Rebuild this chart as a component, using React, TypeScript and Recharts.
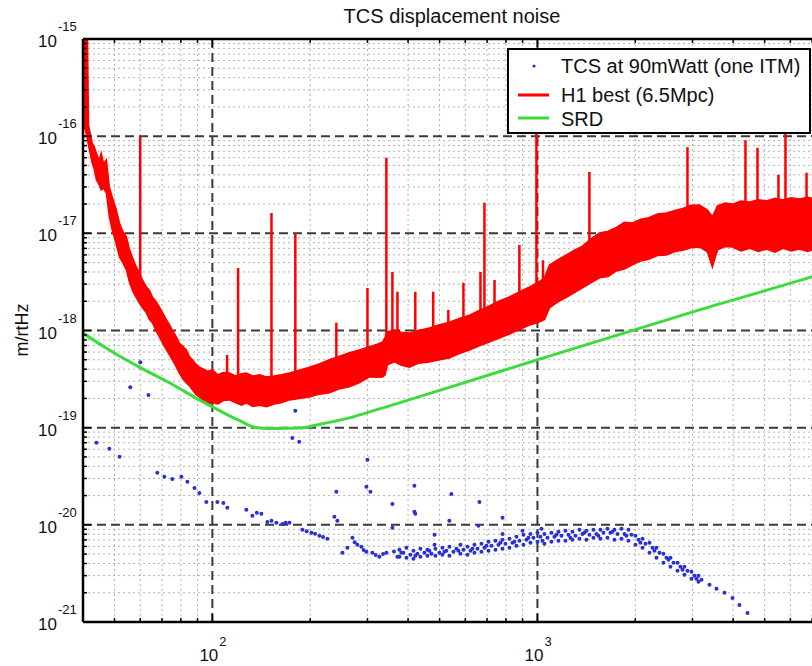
import React from 'react';
import { ComposedChart, Area, Line, Scatter, XAxis, YAxis, CartesianGrid, Legend } from 'recharts';

// ---------- H1 best (6.5Mpc): noise band envelope ----------
const bandFreq = [40, 40.8, 41.3, 41.6, 42.7, 43.3, 44.0, 44.8, 45.5, 46.3, 47.2, 48.2, 49.2, 50.5, 51.8, 53.0, 54.4, 55.5, 56.7, 58.2, 59.6, 61.0, 62.7, 64.0, 65.4, 67.0, 68.7, 70.5, 72.2, 73.8, 75.3, 77.2, 79.1, 81.0, 83.2, 85.0, 86.8, 89.0, 91.2, 94, 97, 100, 104, 108, 112.8, 118, 123, 127.2, 133, 140, 146.6, 155, 163, 172.6, 185, 198.9, 212, 229, 245, 264, 283, 304, 320, 333.6, 340, 345.6, 363, 380, 403.6, 430, 465, 500, 536, 575, 618, 660, 711, 760, 820, 880, 945, 1000, 1051, 1089, 1150, 1228, 1300, 1376, 1460, 1552, 1650, 1750, 1850, 1960, 2080, 2200, 2340, 2494, 2650, 2800, 2970, 3151, 3334, 3453, 3580, 3780, 3981, 4230, 4500, 4780, 5066, 5380, 5700, 6030, 6397, 6780, 7200, 7600, 8000];
const bandLow = [1.4e-16, 1.1e-16, 9.1e-17, 8.0e-17, 5.3e-17, 4.6e-17, 3.55e-17, 3.2e-17, 2.8e-17, 2.9e-17, 2.6e-17, 1.48e-17, 1.08e-17, 8.0e-18, 5.7e-18, 5.0e-18, 4.2e-18, 3.2e-18, 2.62e-18, 2.2e-18, 1.92e-18, 1.7e-18, 1.52e-18, 1.3e-18, 1.2e-18, 1.0e-18, 8.6e-19, 7.3e-19, 6.3e-19, 5.6e-19, 5.0e-19, 4.3e-19, 3.66e-19, 3.2e-19, 2.89e-19, 2.7e-19, 2.45e-19, 2.2e-19, 2.07e-19, 1.9e-19, 1.75e-19, 1.8e-19, 1.75e-19, 1.9e-19, 1.93e-19, 1.8e-19, 1.7e-19, 1.8e-19, 1.65e-19, 1.7e-19, 1.64e-19, 1.75e-19, 1.8e-19, 1.93e-19, 2.0e-19, 2.07e-19, 2.2e-19, 2.28e-19, 2.5e-19, 2.63e-19, 2.9e-19, 3.33e-19, 3.3e-19, 3.33e-19, 3.5e-19, 4.43e-19, 4.75e-19, 4.4e-19, 4.2e-19, 4.6e-19, 4.75e-19, 5.0e-19, 5.2e-19, 5.8e-19, 6.3e-19, 6.9e-19, 7.6e-19, 8.3e-19, 9.2e-19, 1.02e-18, 1.14e-18, 1.2e-18, 1.29e-18, 1.71e-18, 1.95e-18, 2.2e-18, 2.45e-18, 2.74e-18, 3.1e-18, 3.48e-18, 3.6e-18, 4.1e-18, 4.3e-18, 4.73e-18, 5.2e-18, 5.4e-18, 5.9e-18, 6.0e-18, 6.5e-18, 6.7e-18, 7.1e-18, 7.24e-18, 6.44e-18, 4.5e-18, 6.75e-18, 7.3e-18, 7.24e-18, 6.6e-18, 7.0e-18, 6.5e-18, 6.9e-18, 6.4e-18, 7.0e-18, 6.6e-18, 6.9e-18, 6.5e-18, 7.0e-18, 6.7e-18, 7.1e-18];
const bandHigh = [1.0e-15, 1.0e-15, 1.0e-15, 1.3e-16, 8.5e-17, 7.8e-17, 6.7e-17, 5.6e-17, 6.7e-17, 5.2e-17, 5.7e-17, 3.0e-17, 2.37e-17, 1.8e-17, 1.28e-17, 1.05e-17, 9.2e-18, 7.0e-18, 5.7e-18, 4.6e-18, 3.92e-18, 3.3e-18, 2.81e-18, 2.6e-18, 2.22e-18, 2.0e-18, 1.75e-18, 1.5e-18, 1.29e-18, 1.15e-18, 1.01e-18, 8.8e-19, 7.45e-19, 6.9e-19, 6.3e-19, 5.4e-19, 5.0e-19, 4.5e-19, 4.2e-19, 4.0e-19, 3.8e-19, 3.94e-19, 3.5e-19, 3.7e-19, 3.66e-19, 3.4e-19, 3.6e-19, 3.66e-19, 3.4e-19, 3.5e-19, 3.33e-19, 3.4e-19, 3.5e-19, 3.66e-19, 3.9e-19, 4.2e-19, 4.5e-19, 5.0e-19, 5.4e-19, 5.9e-19, 6.3e-19, 6.8e-19, 7.2e-19, 7.6e-19, 8.5e-19, 9.7e-19, 1.01e-18, 9.6e-19, 9.4e-19, 1.0e-18, 1.06e-18, 1.15e-18, 1.22e-18, 1.33e-18, 1.44e-18, 1.6e-18, 1.79e-18, 2.0e-18, 2.22e-18, 2.5e-18, 2.81e-18, 3.1e-18, 3.48e-18, 4.73e-18, 5.3e-18, 6.0e-18, 6.7e-18, 7.4e-18, 8.8e-18, 1.01e-17, 1.05e-17, 1.15e-17, 1.3e-17, 1.28e-17, 1.4e-17, 1.45e-17, 1.58e-17, 1.62e-17, 1.72e-17, 1.8e-17, 1.95e-17, 1.96e-17, 1.74e-17, 1.48e-17, 1.92e-17, 2.05e-17, 2.0e-17, 2.15e-17, 2.1e-17, 2.22e-17, 2.15e-17, 2.3e-17, 2.2e-17, 2.32e-17, 2.26e-17, 2.35e-17, 2.25e-17, 2.33e-17, 2.26e-17];

// ---------- H1 best: spectral lines ----------
const spikeFreq = [60, 111, 120, 152, 180, 240.7, 300, 343, 358, 371, 421, 478, 532, 592, 668, 687, 738, 880, 993, 1040, 1186, 1272, 1445, 2894, 4365, 4753, 5514, 5795, 6727];
const spikePeak = [1.0e-16, 5.6e-19, 4.4e-18, 1.62e-17, 1.0e-17, 1.2e-18, 2.74e-18, 6.0e-17, 4.0e-18, 2.5e-18, 2.5e-18, 2.5e-18, 1.63e-18, 3.1e-18, 4.0e-18, 2.06e-17, 3.3e-18, 7.6e-18, 1.5e-16, 5.3e-18, 5.6e-18, 6.0e-18, 4.28e-17, 7.7e-17, 9.1e-17, 7.6e-17, 4.0e-17, 1.5e-16, 4.2e-17];
const spikeBase = [2.7e-18, 2.6e-19, 2.5e-19, 2.3e-19, 2.6e-19, 3.3e-19, 4.7e-19, 6.0e-19, 6.5e-19, 6.5e-19, 6.3e-19, 7.0e-19, 7.8e-19, 9.0e-19, 1.05e-18, 1.1e-18, 1.25e-18, 1.6e-18, 2.0e-18, 2.2e-18, 3.5e-18, 4.0e-18, 5.5e-18, 1.1e-17, 1.2e-17, 1.2e-17, 1.2e-17, 1.2e-17, 1.25e-17];

// ---------- SRD ----------
const srdFreq = [40, 48.2, 59.6, 73.8, 91.2, 100, 120, 137, 158, 185, 213.4, 264, 326.4, 376, 536, 1000, 3150, 6970, 8000];
const srdVal = [9.4e-19, 6.3e-19, 4.2e-19, 2.9e-19, 1.93e-19, 1.64e-19, 1.2e-19, 1.0e-19, 9.8e-20, 9.9e-20, 1.08e-19, 1.26e-19, 1.56e-19, 1.8e-19, 2.6e-19, 5.0e-19, 1.63e-18, 3.56e-18, 4.1e-18];

// ---------- TCS at 90mWatt (one ITM) ----------
const tcsFreq = [
  44.0, 48.2, 51.8, 55.9, 60.0, 63.6, 67.7, 71.2, 75.3, 80.3, 83.8, 88.1, 91.2, 95.8, 103.6, 108.1, 111.2, 127.2, 132.8, 137, 141.5, 147.6, 152, 157.4, 164.2, 168, 172.6, 176.2, 180, 185, 189.2, 195, 201.7, 207, 213.4, 219, 225.9, 237.3, 240.7, 242.4, 251.2, 260.3, 269.7, 274, 279.3, 287.4, 292, 297.8, 297.8, 300, 306.4, 310.6, 318, 326.4, 335, 343.1, 358, 358, 362, 370.9,
  418.3, 418.3, 421, 543.5, 535.8, 663, 658.4, 781, 781, 482.5, 482.5, 899.5, 1029,
  376.2, 376.2, 387.0, 395.4, 395.4, 406.8, 415.5, 415.5, 427.4, 436.5, 436.5, 449.1, 458.7, 458.7, 471.9, 485.6, 485.6, 499.3, 510.1, 510.1, 524.8, 536.1, 536.1, 551.5, 563.4, 579.6, 579.6, 592.0, 609.1, 609.1, 622.2, 640.2, 640.2, 654.0, 672.7, 672.7, 687.1, 706.9, 706.9, 722.2, 742.9, 742.9, 758.6, 780.5, 780.5, 797.3, 820.2, 820.2, 837.9, 862.0, 862.0, 880.5, 905.8, 905.8, 925.3, 951.8, 951.8, 972.0, 1000, 1000, 1021.4, 1050.8, 1050.8, 1073.5, 1104.3, 1104.3, 1128.0, 1160.4, 1160.4, 1185.3, 1219.5, 1219.5, 1245.6, 1281.4, 1281.4, 1308.9, 1346.5, 1346.5, 1375.6, 1415.1, 1415.1, 1445.4, 1487.0, 1487.0, 1518.9, 1562.6, 1562.6, 1596.4, 1642.3, 1642.3, 1677.5, 1725.7, 1725.7, 1763.0, 1813.6, 1813.6, 1852.5, 1905.5, 1905.5, 1946.4, 2002.4, 2002.4, 2045.7, 2104.5, 2104.5, 2149.6, 2211.4, 2211.4, 2258.8, 2323.9, 2323.9, 2373.6, 2441.8, 2441.8, 2494.1, 2565.7, 2565.7, 2621.2, 2696.5, 2696.5, 2754.2, 2833.4, 2833.4, 2894.3, 2977.5, 2977.5, 3041.6, 3129.0, 3129.0, 3196.4,
  381.5, 421.4, 465.2, 517.3, 571.3, 631, 697, 769.5, 849.6, 938.3, 1036, 1144, 1263, 1395, 1540, 1701, 1878, 2074, 2291, 2530, 2794, 3085,
  3382.6, 3554.8, 3762, 3981, 4183, 4429
];
const tcsVal = [
  6.98e-20, 6.05e-20, 5.01e-20, 2.6e-19, 4.7e-19, 2.17e-19, 3.43e-20, 3.12e-20, 2.97e-20, 3.12e-20, 2.77e-20, 2.40e-20, 2.13e-20, 1.72e-20, 1.72e-20, 1.68e-20, 1.50e-20, 1.43e-20, 1.24e-20, 1.33e-20, 1.30e-20, 1.07e-20, 1.1e-20, 1.05e-20, 1.02e-20, 1.05e-20, 1.05e-20, 7.85e-20, 1.49e-19, 7.15e-20, 8.89e-21, 8.6e-21, 8.28e-21, 8.1e-21, 7.71e-21, 7.5e-21, 7.18e-21, 1.21e-20, 2.19e-20, 1.10e-20, 5.15e-21, 5.80e-21, 7.35e-21, 6.6e-21, 6.23e-21, 5.94e-21, 5.5e-21, 5.28e-21, 2.46e-20, 4.67e-20, 2.19e-20, 5.15e-21, 4.9e-21, 4.69e-21, 5.0e-21, 5.15e-21, 9.31e-21, 1.64e-20, 5.3e-21, 4.69e-21,
  2.52e-20, 1.36e-20, 1.30e-20, 2.08e-20, 1.10e-20, 1.72e-20, 9.77e-21, 1.18e-20, 8.07e-21, 7.89e-21, 6.23e-21, 8.67e-21, 9.09e-21,
  5.53e-21, 4.69e-21, 5.15e-21, 5.80e-21, 4.58e-21, 4.91e-21, 5.40e-21, 4.47e-21, 5.03e-21, 5.66e-21, 4.69e-21, 5.15e-21, 4.80e-21, 5.53e-21, 5.03e-21, 5.66e-21, 4.80e-21, 5.15e-21, 5.80e-21, 4.91e-21, 5.40e-21, 5.94e-21, 4.80e-21, 5.28e-21, 5.66e-21, 6.23e-21, 5.03e-21, 5.53e-21, 5.94e-21, 4.91e-21, 5.40e-21, 6.23e-21, 5.15e-21, 5.66e-21, 6.37e-21, 5.28e-21, 5.80e-21, 6.69e-21, 5.40e-21, 6.08e-21, 6.85e-21, 5.53e-21, 6.23e-21, 7.01e-21, 5.66e-21, 6.37e-21, 7.18e-21, 5.80e-21, 6.53e-21, 7.53e-21, 6.08e-21, 6.85e-21, 7.89e-21, 6.23e-21, 7.01e-21, 8.07e-21, 6.53e-21, 7.35e-21, 8.28e-21, 6.69e-21, 7.53e-21, 8.07e-21, 6.37e-21, 7.35e-21, 8.28e-21, 6.69e-21, 7.53e-21, 8.47e-21, 6.85e-21, 7.71e-21, 8.67e-21, 6.85e-21, 7.89e-21, 8.47e-21, 7.01e-21, 7.71e-21, 8.89e-21, 7.18e-21, 8.07e-21, 8.67e-21, 7.01e-21, 7.89e-21, 8.89e-21, 7.35e-21, 8.07e-21, 8.89e-21, 7.18e-21, 8.28e-21, 9.09e-21, 7.35e-21, 8.28e-21, 8.89e-21, 7.01e-21, 8.07e-21, 9.09e-21, 7.18e-21, 8.07e-21, 8.89e-21, 6.85e-21, 7.89e-21, 7.71e-21, 6.23e-21, 7.01e-21, 7.18e-21, 5.80e-21, 6.37e-21, 6.53e-21, 5.15e-21, 5.80e-21, 5.80e-21, 4.58e-21, 5.15e-21, 5.03e-21, 4.07e-21, 4.58e-21, 4.58e-21, 3.70e-21, 4.07e-21, 4.07e-21, 3.36e-21, 3.70e-21, 3.70e-21, 3.06e-21, 3.36e-21, 3.28e-21, 2.78e-21, 2.99e-21, 2.99e-21, 2.59e-21, 2.72e-21,
  5.15e-21, 4.80e-21, 5.40e-21, 5.28e-21, 5.40e-21, 5.66e-21, 6.08e-21, 6.53e-21, 6.69e-21, 7.35e-21, 6.85e-21, 7.89e-21, 7.35e-21, 8.28e-21, 7.71e-21, 8.47e-21, 7.71e-21, 6.53e-21, 5.40e-21, 4.37e-21, 3.44e-21, 2.78e-21,
  2.42e-21, 2.20e-21, 2.00e-21, 1.77e-21, 1.50e-21, 1.24e-21
];

// ---------- axes ----------
const xMajorTicks = [100, 1000];
const xMajorExp = ['2', '3'];
const xMinorTicks = [50, 60, 70, 80, 90, 200, 300, 400, 500, 600, 700, 800, 900, 2000, 3000, 4000, 5000, 6000, 7000];
const yMajorExp = [-21, -20, -19, -18, -17, -16, -15];
const yMantissa = [2, 3, 4, 5, 6, 7, 8, 9];

const yMajorTicks = yMajorExp.map((e) => Number(`1e${e}`));
const yMinorTicks = yMajorExp.slice(0, -1).flatMap((e) => yMantissa.map((m) => Number(`${m}e${e}`)));
const xAllTicks = [...xMinorTicks, ...xMajorTicks].sort((a, b) => a - b);
const yAllTicks = [...yMinorTicks, ...yMajorTicks].sort((a, b) => a - b);

const FONT = '"Liberation Sans", Arial, Helvetica, sans-serif';
const RED = '#ff0000';
const GREEN = '#3ddc3d';
const BLUE = '#2a30d4';

const bandData = bandFreq.map((f, i) => ({ f, r: [bandLow[i], bandHigh[i]] }));
const spikeData = spikeFreq.flatMap((f, i) => [
  { f, v: spikeBase[i] },
  { f, v: spikePeak[i] },
  { f, v: null },
]);
const srdData = srdFreq.map((f, i) => ({ f, v: srdVal[i] }));
const tcsData = tcsFreq.map((f, i) => ({ f, v: tcsVal[i] }));

const XTickBottom = (props: any) => {
  const { x, y, payload } = props;
  const idx = xMajorTicks.indexOf(payload.value);
  const major = idx >= 0;
  return (
    <g>
      <line x1={x} y1={y} x2={x} y2={y - (major ? 8 : 4)} stroke="#000" strokeWidth={1.5} />
      {major && (
        <text x={x - 3.5} y={y + 39} textAnchor="middle" fontSize={17} fontFamily={FONT} fill="#111">
          10
        </text>
      )}
      {major && (
        <text x={x + 7} y={y + 24} textAnchor="start" fontSize={13} fontFamily={FONT} fill="#111">
          {xMajorExp[idx]}
        </text>
      )}
    </g>
  );
};

const XTickTop = (props: any) => {
  const { x, y, payload } = props;
  const major = xMajorTicks.indexOf(payload.value) >= 0;
  return <line x1={x} y1={y} x2={x} y2={y + (major ? 8 : 4)} stroke="#000" strokeWidth={1.5} />;
};

const YTick = (props: any) => {
  const { x, y, payload } = props;
  const idx = yMajorTicks.findIndex((t) => Math.abs(t - payload.value) / t < 1e-6);
  const major = idx >= 0;
  return (
    <g>
      <line x1={x} y1={y} x2={x + (major ? 8 : 4)} y2={y} stroke="#000" strokeWidth={1.5} />
      {major && (
        <text x={x - 26} y={y + 8} textAnchor="end" fontSize={17} fontFamily={FONT} fill="#111">
          10
        </text>
      )}
      {major && (
        <text x={x - 25} y={y - 8} textAnchor="start" fontSize={13} fontFamily={FONT} fill="#111">
          {String(yMajorExp[idx])}
        </text>
      )}
    </g>
  );
};

const renderLegend = () => (
  <div
    style={{
      width: 304,
      height: 86,
      boxSizing: 'border-box',
      border: '2px solid #000',
      background: '#fff',
      position: 'relative',
      fontFamily: FONT,
      fontSize: 20,
      color: '#111',
    }}
  >
    <svg width={54} height={82} style={{ position: 'absolute', left: 0, top: 0 }}>
      <circle cx={25} cy={16} r={1.6} fill={BLUE} />
      <line x1={9} y1={45} x2={40} y2={45} stroke={RED} strokeWidth={3} />
      <line x1={9} y1={68} x2={40} y2={68} stroke={GREEN} strokeWidth={3} />
    </svg>
    <div style={{ position: 'absolute', left: 52, top: 5, lineHeight: '22px', whiteSpace: 'nowrap' }}>TCS at 90mWatt (one ITM)</div>
    <div style={{ position: 'absolute', left: 52, top: 34, lineHeight: '22px', whiteSpace: 'nowrap' }}>H1 best (6.5Mpc)</div>
    <div style={{ position: 'absolute', left: 52, top: 58, lineHeight: '22px', whiteSpace: 'nowrap' }}>SRD</div>
  </div>
);

export default function App() {
  return (
    <div
      style={{
        position: 'fixed',
        left: 0,
        top: 0,
        width: 812,
        height: 666,
        overflow: 'hidden',
        background: '#fff',
        fontFamily: FONT,
      }}
    >
      <ComposedChart width={840} height={666} margin={{ top: 38, right: 9, bottom: 43, left: 82 }}>
        <CartesianGrid
          horizontalValues={yMinorTicks}
          verticalValues={xMinorTicks}
          stroke="#b4b4b4"
          strokeDasharray="2 3"
          strokeWidth={1}
        />
        <CartesianGrid
          horizontalValues={yMajorTicks.slice(1, -1)}
          verticalValues={xMajorTicks}
          stroke="#3a3a3a"
          strokeDasharray="9 5"
          strokeWidth={2}
        />
        <XAxis
          dataKey="f"
          type="number"
          scale="log"
          domain={[40, 8000]}
          allowDataOverflow
          ticks={xAllTicks}
          interval={0}
          height={1}
          tickSize={0}
          tickMargin={0}
          tick={<XTickBottom />}
          tickLine={false}
          axisLine={{ stroke: '#000', strokeWidth: 2.5 }}
        />
        <XAxis
          xAxisId="top"
          orientation="top"
          dataKey="f"
          type="number"
          scale="log"
          domain={[40, 8000]}
          allowDataOverflow
          ticks={xAllTicks}
          interval={0}
          height={1}
          tickSize={0}
          tickMargin={0}
          tick={<XTickTop />}
          tickLine={false}
          axisLine={{ stroke: '#000', strokeWidth: 2.5 }}
        />
        <YAxis
          dataKey="v"
          type="number"
          scale="log"
          domain={[1e-21, 1e-15]}
          allowDataOverflow
          ticks={yAllTicks}
          interval={0}
          width={1}
          tickSize={0}
          tickMargin={0}
          tick={<YTick />}
          tickLine={false}
          axisLine={{ stroke: '#000', strokeWidth: 2.5 }}
        />
        <Area
          data={bandData}
          dataKey="r"
          type="linear"
          stroke={RED}
          strokeWidth={1.5}
          fill={RED}
          fillOpacity={1}
          isAnimationActive={false}
          legendType="none"
        />
        <Line
          data={spikeData}
          dataKey="v"
          type="linear"
          stroke={RED}
          strokeWidth={2.5}
          dot={false}
          isAnimationActive={false}
          legendType="none"
        />
        <Line
          data={srdData}
          dataKey="v"
          type="monotone"
          stroke={GREEN}
          strokeWidth={3}
          dot={false}
          isAnimationActive={false}
          legendType="none"
        />
        <Scatter
          data={tcsData}
          dataKey="v"
          fill={BLUE}
          isAnimationActive={false}
          shape={(p: any) => <circle cx={p.cx} cy={p.cy} r={2} fill={BLUE} />}
        />
        <Legend
          layout="vertical"
          align="center"
          verticalAlign="middle"
          content={renderLegend}
          wrapperStyle={{ left: 507, top: 48, width: 304, height: 86 }}
        />
      </ComposedChart>
      <div
        style={{
          position: 'absolute',
          left: 252,
          top: 4,
          width: 400,
          textAlign: 'center',
          fontSize: 20,
          lineHeight: '24px',
          color: '#111',
          whiteSpace: 'nowrap',
        }}
      >
        TCS displacement noise
      </div>
      <div
        style={{
          position: 'absolute',
          left: -28,
          top: 320,
          width: 100,
          height: 20,
          lineHeight: '20px',
          fontSize: 18,
          textAlign: 'center',
          color: '#111',
          transform: 'rotate(-90deg)',
        }}
      >
        m/rtHz
      </div>
    </div>
  );
}
